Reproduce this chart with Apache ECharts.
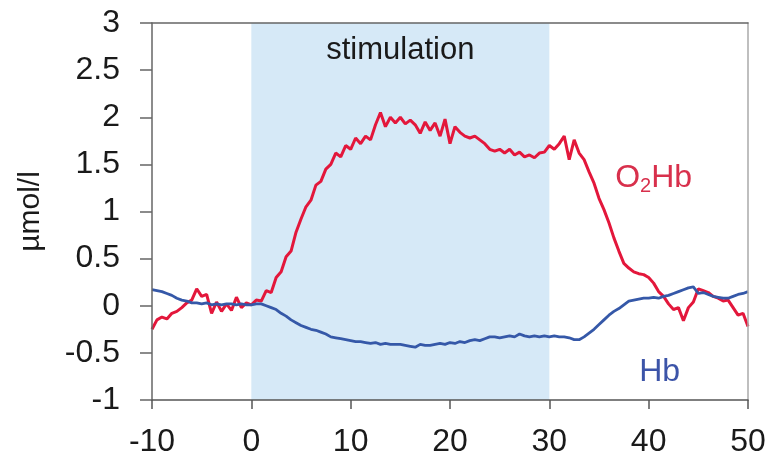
<!DOCTYPE html>
<html>
<head>
<meta charset="utf-8">
<script src="https://cdn.jsdelivr.net/npm/echarts@6/dist/echarts.min.js"></script>
<style>
html,body{margin:0;padding:0;background:#fff;}
#c{width:769px;height:468px;}
</style>
</head>
<body>
<div id="c"></div>
<script>
// sample times: start -10 s, step 0.5 s
const tStart = -10;
const tStep = 0.5;

// O2Hb (µmol/l), t = -10 ... 50
const o2hb = [
 -0.25,-0.15,-0.12,-0.14,-0.08,-0.06,-0.02,0.03,0.06,0.18,
 0.10,0.12,-0.08,0.04,-0.06,0.02,-0.05,0.09,-0.02,0.03,
 0.01,0.06,0.05,0.16,0.14,0.30,0.36,0.52,0.58,0.78,
 0.92,1.05,1.12,1.28,1.32,1.45,1.50,1.62,1.58,1.70,
 1.66,1.78,1.72,1.80,1.76,1.92,2.05,1.90,2.00,1.94,
 2.00,1.93,1.97,1.92,1.83,1.95,1.86,1.94,1.80,1.98,
 1.72,1.90,1.84,1.80,1.78,1.80,1.76,1.72,1.66,1.64,
 1.66,1.62,1.66,1.60,1.63,1.58,1.60,1.57,1.62,1.63,
 1.70,1.66,1.72,1.80,1.55,1.76,1.62,1.55,1.42,1.30,
 1.14,1.02,0.88,0.72,0.58,0.45,0.40,0.36,0.34,0.33,
 0.30,0.24,0.15,0.10,0.02,-0.04,-0.02,-0.16,-0.02,0.04,
 0.18,0.16,0.14,0.10,0.08,0.05,0.06,-0.02,-0.10,-0.08,
 -0.22
];

// Hb (µmol/l), t = -10 ... 50
const hb = [
 0.17,0.16,0.15,0.13,0.11,0.08,0.06,0.05,0.03,0.03,
 0.02,0.03,0.01,0.02,0.01,0.02,0.02,0.01,0.02,0.01,
 0.01,0.02,0.02,0.00,-0.02,-0.04,-0.08,-0.11,-0.15,-0.18,
 -0.21,-0.23,-0.25,-0.26,-0.28,-0.30,-0.33,-0.34,-0.35,-0.36,
 -0.37,-0.38,-0.38,-0.39,-0.40,-0.39,-0.41,-0.40,-0.41,-0.41,
 -0.41,-0.42,-0.43,-0.44,-0.41,-0.42,-0.42,-0.41,-0.40,-0.41,
 -0.39,-0.40,-0.38,-0.39,-0.37,-0.36,-0.37,-0.35,-0.33,-0.33,
 -0.34,-0.33,-0.32,-0.33,-0.30,-0.32,-0.33,-0.32,-0.33,-0.32,
 -0.33,-0.32,-0.33,-0.33,-0.34,-0.36,-0.36,-0.33,-0.29,-0.25,
 -0.20,-0.15,-0.10,-0.06,-0.03,0.01,0.05,0.06,0.07,0.08,
 0.08,0.09,0.08,0.10,0.11,0.13,0.15,0.17,0.19,0.20,
 0.13,0.14,0.12,0.10,0.09,0.08,0.08,0.10,0.12,0.13,
 0.15
];

const stimulation = [0, 30];
const stimLabel = 'stimulation';
const xTicks = {min: -10, max: 50, interval: 10};
const yTicks = {min: -1, max: 3, interval: 0.5};
const yName = 'µmol/l';
const o2hbLabelPos = [40.5, 1.35];
const hbLabelPos = [41.1, -0.70];

const toPairs = arr => arr.map((v, i) => [tStart + i * tStep, v]);

const FONT = '"Liberation Sans", Arial, sans-serif';
const RED = '#e3173b';
const BLUE = '#3558a8';

const chart = echarts.init(document.getElementById('c'), null, {renderer: 'canvas'});
chart.setOption({
  animation: false,
  backgroundColor: '#ffffff',
  textStyle: {fontFamily: FONT},
  grid: {left: 152, right: 21, top: 23, bottom: 68},
  xAxis: [{
    type: 'value', min: xTicks.min, max: xTicks.max, interval: xTicks.interval,
    z: 10,
    axisLine: {show: true, onZero: false, lineStyle: {color: '#555', width: 1.5}},
    axisTick: {show: true, inside: false, length: 9, lineStyle: {color: '#555', width: 1.5}},
    axisLabel: {fontSize: 32, color: '#1a1a1a', margin: 26, fontFamily: FONT},
    splitLine: {show: false}
  }, {
    type: 'value', position: 'top', min: xTicks.min, max: xTicks.max, z: 10,
    axisLine: {show: true, onZero: false, lineStyle: {color: '#666', width: 1.5}},
    axisTick: {show: false}, axisLabel: {show: false}, splitLine: {show: false}
  }],
  yAxis: [{
    type: 'value', min: yTicks.min, max: yTicks.max, interval: yTicks.interval,
    z: 10,
    name: yName, nameLocation: 'middle', nameGap: 106, nameRotate: 90,
    nameTextStyle: {fontSize: 30, color: '#1a1a1a', fontFamily: FONT},
    axisLine: {show: true, onZero: false, lineStyle: {color: '#666', width: 1.5}},
    axisTick: {show: true, inside: false, length: 12, lineStyle: {color: '#666', width: 1.5}},
    axisLabel: {fontSize: 32, color: '#1a1a1a', margin: 32, fontFamily: FONT},
    splitLine: {show: false}
  }, {
    type: 'value', position: 'right', min: yTicks.min, max: yTicks.max, z: 10,
    axisLine: {show: true, onZero: false, lineStyle: {color: '#aaa', width: 1.5}},
    axisTick: {show: false}, axisLabel: {show: false}, splitLine: {show: false}
  }],
  series: [{
    type: 'line', data: [], z: 1, silent: true,
    markArea: {
      silent: true,
      itemStyle: {color: '#d6e9f7'},
      label: {show: true, position: 'insideTop', distance: 12, formatter: stimLabel,
        fontSize: 31, color: '#1a1a1a', fontFamily: FONT},
      data: [[{xAxis: stimulation[0]}, {xAxis: stimulation[1]}]]
    }
  }, {
    name: 'O2Hb', type: 'line', data: toPairs(o2hb), z: 3,
    showSymbol: false, symbol: 'none',
    lineStyle: {color: RED, width: 3},
    markPoint: {
      symbol: 'circle', symbolSize: 0,
      label: {show: true, position: 'inside',
        formatter: '{a|O}{s|2}{a|Hb}',
        rich: {
          a: {fontSize: 32, color: '#d8304c', fontFamily: FONT},
          s: {fontSize: 20, color: '#d8304c', fontFamily: FONT, padding: [16, 0, 0, 0]}
        }},
      data: [{coord: o2hbLabelPos}]
    }
  }, {
    name: 'Hb', type: 'line', data: toPairs(hb), z: 4,
    showSymbol: false, symbol: 'none',
    lineStyle: {color: BLUE, width: 2.8},
    markPoint: {
      symbol: 'circle', symbolSize: 0,
      label: {show: true, position: 'inside', formatter: 'Hb',
        fontSize: 32, color: '#3c54a8', fontFamily: FONT},
      data: [{coord: hbLabelPos}]
    }
  }]
});
</script>
</body>
</html>
